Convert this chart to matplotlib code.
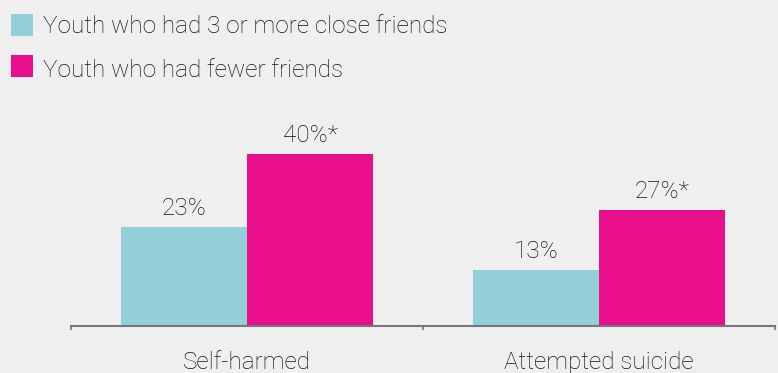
import matplotlib
matplotlib.use("Agg")
import matplotlib.pyplot as plt
from matplotlib.patches import Rectangle
import numpy as np

categories = ["Self-harmed", "Attempted suicide"]
series_names = ["Youth who had 3 or more close friends", "Youth who had fewer friends"]
close_friends = [23, 13]
fewer_friends = [40, 27]
value_labels = [["23%", "13%"], ["40%*", "27%*"]]

colors = ["#92cfd9", "#e90e8b"]
bg = "#efefef"
text_color = "#111111"
fs = 17.5

plt.rcParams["font.family"] = ["Roboto", "DejaVu Sans"]

fig = plt.figure(figsize=(7.78, 3.73), dpi=100, facecolor=bg)
W, H = 778, 373
ax = fig.add_axes([71 / W, (H - 326) / H, 704 / W, 226 / H])
ax.set_facecolor(bg)

x = np.arange(len(categories))
bw = 0.358
series = [close_friends, fewer_friends]
offsets = [-bw / 2, bw / 2]
for vals, off, col, labs in zip(series, offsets, colors, value_labels):
    bars = ax.bar(x + off, vals, width=bw, color=col, linewidth=0)
    for b, v, lab in zip(bars, vals, labs):
        ax.annotate(lab, (b.get_x() + b.get_width() / 2, v), xytext=(0, 5),
                    textcoords="offset points", ha="center", va="bottom",
                    fontsize=fs, fontweight="light", color=text_color)

ax.set_xlim(-0.5, len(categories) - 0.5)
ax.set_ylim(0, 52.5)
for s in ["top", "right", "left"]:
    ax.spines[s].set_visible(False)
ax.spines["bottom"].set_color("#777777")
ax.spines["bottom"].set_linewidth(1.5)
ax.set_yticks([])
ax.set_xticks(np.arange(-0.5, len(categories)), minor=False)
ax.set_xticklabels([])
ax.tick_params(axis="x", which="major", length=3, width=1.2, color="#777777")
ax.set_xticks(x, minor=True)
ax.set_xticklabels(categories, minor=True, fontsize=fs, fontweight="light",
                   color=text_color)
ax.tick_params(axis="x", which="minor", length=0, pad=18)

# legend drawn in figure pixels
patch_tops = [14, 55]
text_baselines = [33, 77]
for name, col, top, base in zip(series_names, colors, patch_tops, text_baselines):
    fig.patches.append(Rectangle((11 / W, 1 - (top + 22) / H), 22 / W, 22 / H,
                                 transform=fig.transFigure, color=col, linewidth=0))
    fig.text(43 / W, 1 - base / H, name, ha="left", va="baseline",
             fontsize=fs, fontweight="light", color=text_color)

fig.savefig("out.png", dpi=100, facecolor=bg)
